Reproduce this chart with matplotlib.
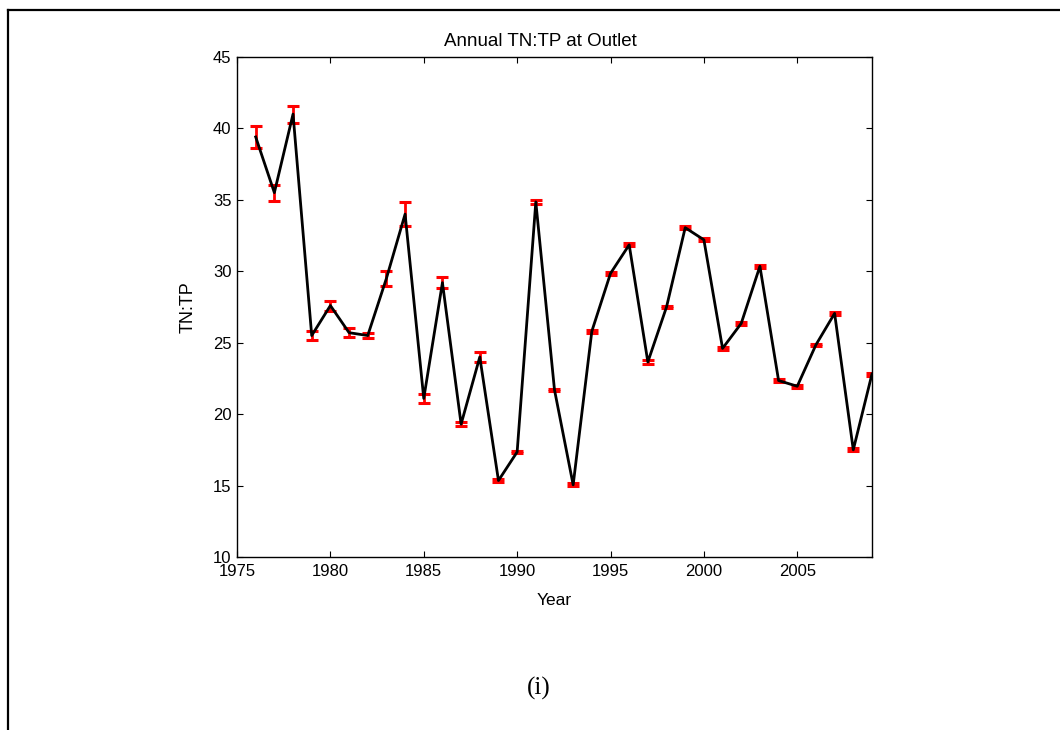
import numpy as np
import matplotlib.pyplot as plt
from matplotlib.lines import Line2D

# Annual TN:TP at outlet
years = np.arange(1976, 2010)
tntp = [39.4, 35.5, 41.0, 25.5, 27.6, 25.7, 25.5, 29.5, 34.0, 21.1,
        29.2, 19.3, 24.0, 15.35, 17.35, 34.85, 21.7, 15.05, 25.8, 29.85,
        31.85, 23.65, 27.5, 33.05, 32.2, 24.6, 26.35, 30.35, 22.35, 21.95,
        24.85, 27.05, 17.5, 22.8]
tntp_err = [0.8, 0.55, 0.6, 0.3, 0.35, 0.3, 0.2, 0.5, 0.85, 0.3,
            0.4, 0.12, 0.35, 0.1, 0.08, 0.15, 0.08, 0.1, 0.1, 0.12,
            0.1, 0.12, 0.08, 0.1, 0.1, 0.08, 0.08, 0.12, 0.08, 0.1,
            0.08, 0.1, 0.1, 0.1]
xticks = [1975, 1980, 1985, 1990, 1995, 2000, 2005]
yticks = [10, 15, 20, 25, 30, 35, 40, 45]

plt.rcParams['font.family'] = ['Liberation Sans', 'DejaVu Sans']

fig = plt.figure(figsize=(10.6, 7.3), dpi=100)
ax = fig.add_axes([0.2236, 0.237, 0.599, 0.685])

# error bars first, black line on top
ax.errorbar(years, tntp, yerr=tntp_err, fmt='none', ecolor='red',
            elinewidth=2.0, capsize=4.5, capthick=2.2, zorder=2)
ax.plot(years, tntp, color='black', linewidth=2.0, zorder=3)

ax.set_xlim(1975, 2009)
ax.set_ylim(10, 45)
ax.set_xticks(xticks)
ax.set_yticks(yticks)
ax.tick_params(direction='in', top=True, right=True, length=4,
               width=0.8, labelsize=12)
ax.tick_params(axis='x', pad=5)
ax.tick_params(axis='y', pad=4)
for s in ax.spines.values():
    s.set_linewidth(1.0)

ax.set_title('Annual TN:TP at Outlet', fontsize=13.5, pad=8, x=0.478)
ax.set_xlabel('Year', fontsize=12.5, labelpad=10)
ax.set_ylabel('TN:TP', fontsize=13, labelpad=12)

fig.text(0.508, 0.057, '(i)', family=['Liberation Serif', 'DejaVu Serif'],
         fontsize=18, ha='center', va='center')

# page border: top and left only
fig.add_artist(Line2D([0.008, 1.0], [0.986, 0.986], color='black',
                      linewidth=1.6, transform=fig.transFigure))
fig.add_artist(Line2D([0.008, 0.008], [0.0, 0.986], color='black',
                      linewidth=1.6, transform=fig.transFigure))

fig.savefig('out.png', dpi=100)
